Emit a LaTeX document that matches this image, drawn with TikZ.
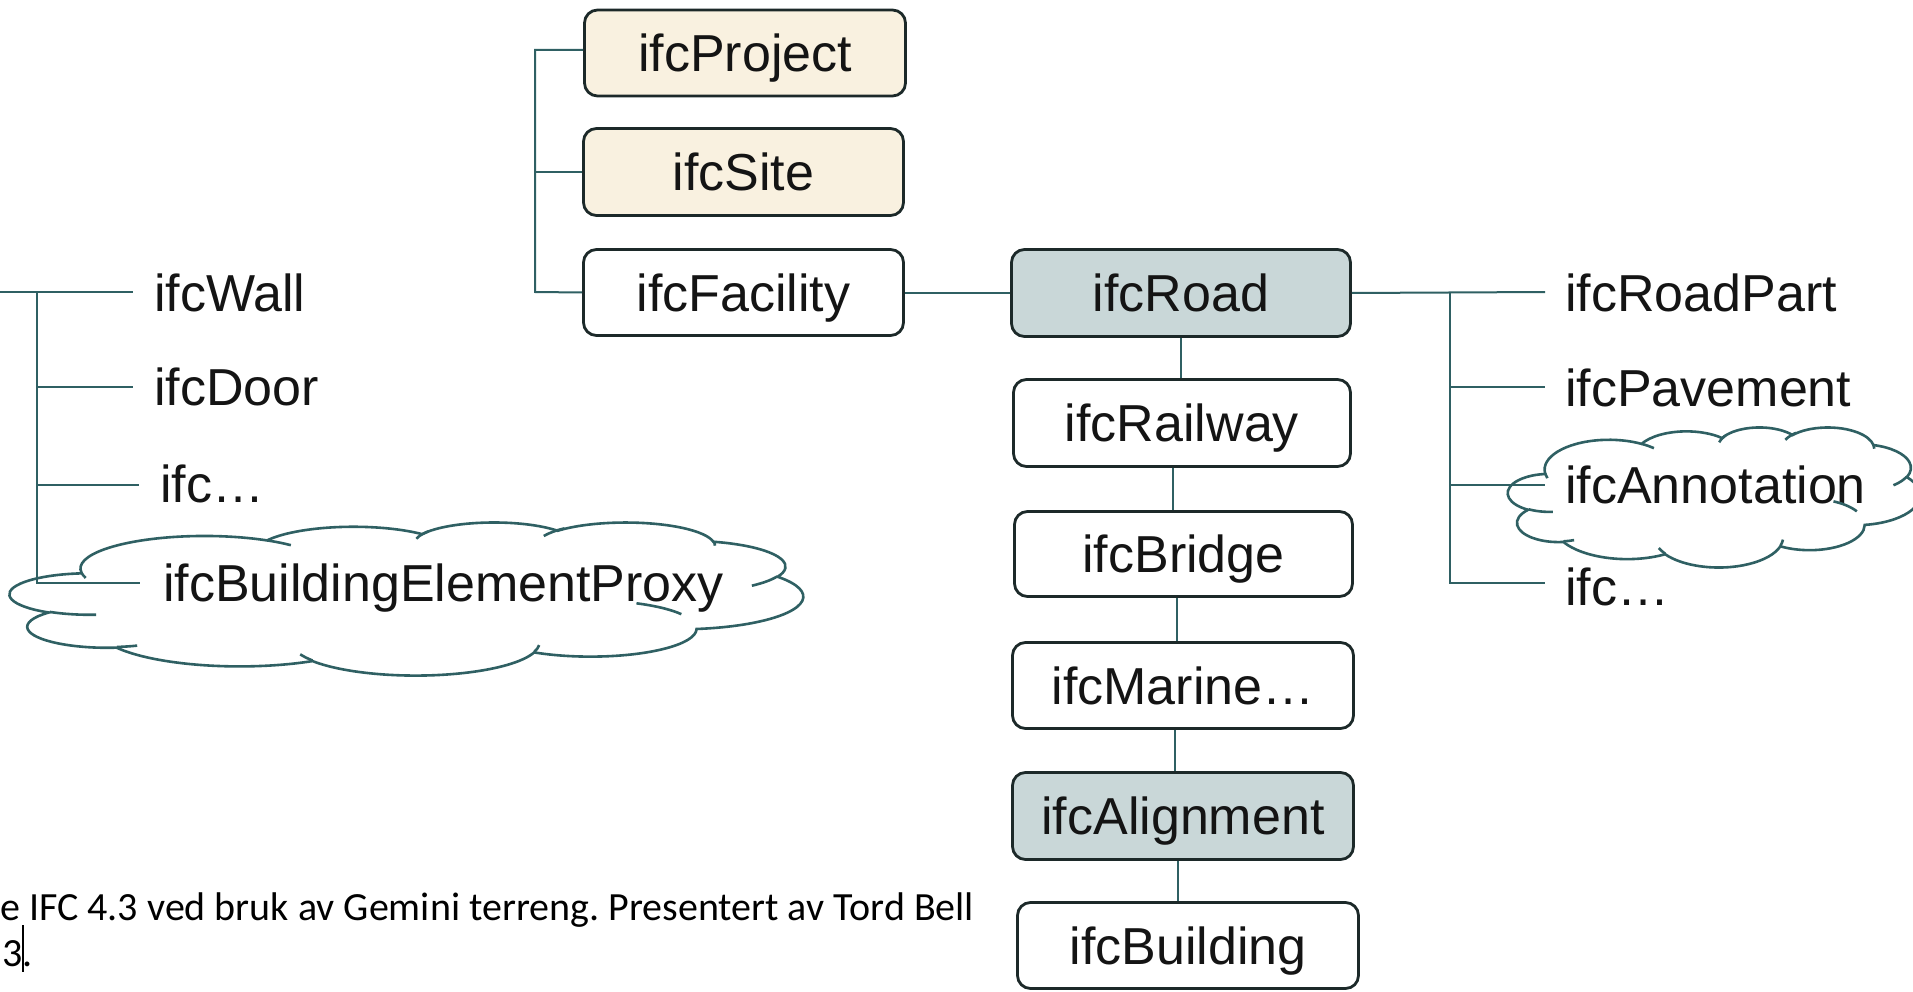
\documentclass[tikz,border=0pt]{standalone}
\usepackage{fontspec}
\setmainfont{Liberation Sans}
\newfontfamily\capfont{Carlito}
\usetikzlibrary{calc}
\frenchspacing

% Helpers for an elliptic-arc cloud outline: the arc angles are "visual"
% angles, converted here to the parametric angles TikZ expects.
\makeatletter
\pgfmathdeclarefunction{clstart}{3}{%
  \begingroup
  \pgfmathparse{atan2(#1*sin(#3),#2*cos(#3))}%
  \pgfmath@smuggleone\pgfmathresult
  \endgroup}
\pgfmathdeclarefunction{cldelta}{4}{%
  \begingroup
  \pgfmathparse{atan2(#1*sin(#3),#2*cos(#3))}\let\cl@ts\pgfmathresult
  \pgfmathparse{atan2(#1*sin(#3+#4),#2*cos(#3+#4))}\let\cl@te\pgfmathresult
  \pgfmathparse{\cl@te-\cl@ts}\let\cl@dd\pgfmathresult
  \pgfmathparse{\cl@dd+360*and(#4>0,\cl@dd<0)-360*and(#4<0,\cl@dd>0)}%
  \pgfmath@smuggleone\pgfmathresult
  \endgroup}
\makeatother
\newcommand\carc[4]{arc[x radius=#1, y radius=#2, start angle={clstart(#1,#2,#3)}, delta angle={cldelta(#1,#2,#3,#4)}]}

% Cloud outline in a 432 x 432 frame (y pointing down)
\newcommand\cloudoutline{%
  (39.00,143.70)
  \carc{67.53}{91.90}{-190.4875}{123.7805}
  \carc{53.33}{72.67}{-144.1024}{89.9452}
  \carc{43.65}{59.45}{-145.8079}{99.7230}
  \carc{48.57}{65.95}{-130.9861}{117.2417}
  \carc{53.33}{72.73}{-78.7089}{109.0269}
  \carc{67.75}{92.20}{-46.2673}{130.2690}
  \carc{57.85}{78.67}{0.6250}{114.0333}
  \carc{67.52}{92.15}{22.4516}{115.1726}
  \carc{77.20}{105.43}{66.2426}{75.7110}
  \carc{43.60}{59.18}{-274.9421}{146.7356}
  \carc{43.45}{59.45}{-246.8285}{152.5189}
  -- cycle}
\newcommand\cloudcreases{%
  (46.93,261.77) \carc{43.45}{59.45}{86.7420}{26.4295}
  (69.28,348.99) \carc{43.60}{59.18}{73.6105}{11.4475}
  (164.78,390.90) \carc{67.52}{92.15}{137.6242}{14.0811}
  (288.27,347.51) \carc{67.52}{92.15}{6.4533}{15.9984}
  (341.29,229.54) \carc{57.85}{78.67}{-70.2924}{31.4652}
  (417.98,153.54) \carc{53.33}{72.73}{29.8607}{27.1899}
  (383.24,54.26) \carc{48.57}{65.95}{-13.7368}{14.8547}
  (290.78,39.52) \carc{48.57}{65.95}{-149.1764}{24.6038}
  (221.41,47.20) \carc{43.65}{59.45}{-163.4943}{26.0018}
  (140.00,51.92) \carc{67.53}{91.90}{-66.7070}{12.3194}
  (41.27,157.89) \carc{67.53}{91.90}{157.6544}{11.8582}}

\definecolor{linkteal}{HTML}{2F6063}
\definecolor{edgeink}{HTML}{1C2929}
\definecolor{creamfill}{HTML}{F9F1E0}
\definecolor{slatefill}{HTML}{C9D7D8}
\definecolor{inkblack}{HTML}{141414}

\tikzset{
  ifcbox/.style={draw=edgeink, fill=white, line width=2.8pt, rounded corners=13pt,
    inner sep=0pt, text height=37pt, text depth=0pt,
    font=\fontsize{52}{60}\selectfont, text=inkblack},
  keybox/.style={ifcbox, fill=creamfill},
  spinebox/.style={ifcbox, fill=slatefill},
  plainlabel/.style={anchor=base west, inner sep=0pt,
    font=\fontsize{52}{60}\selectfont, text=inkblack},
  link/.style={draw=linkteal, line width=2pt},
  cloudline/.style={draw=linkteal, line width=2.6pt},
  caption/.style={inner sep=0pt, font=\capfont\fontsize{40}{46}\selectfont, text=black},
}

\begin{document}
\begin{tikzpicture}[x=1pt, y={(0pt,-1pt)}]
\useasboundingbox[fill=white] (0,0) rectangle (1913,992);

% --- spatial hierarchy boxes ---
\node[keybox, minimum width=321pt, minimum height=86pt] (project) at (745,53) {ifcProject};
\node[keybox, minimum width=320pt, minimum height=87pt] (site) at (743.5,172) {ifcSite};
\node[ifcbox, minimum width=320pt, minimum height=86pt] (facility) at (743.5,292.5) {ifcFacility};

% --- facility column ---
\node[spinebox, minimum width=339pt, minimum height=87pt] (road) at (1181,293) {ifcRoad};
\node[ifcbox, minimum width=337pt, minimum height=87pt] (railway) at (1182,423) {ifcRailway};
\node[ifcbox, minimum width=338pt, minimum height=85pt] (bridge) at (1183.5,554) {ifcBridge};
\node[ifcbox, minimum width=341pt, minimum height=86pt] (marine) at (1183,685.5) {ifcMarine…};
\node[spinebox, minimum width=341pt, minimum height=87pt] (alignment) at (1183,816) {ifcAlignment};
\node[ifcbox, minimum width=341pt, minimum height=86pt] (building) at (1188,945.5) {ifcBuilding};

% --- element labels (left) ---
\node[plainlabel] (wall) at (154,311) {ifcWall};
\node[plainlabel] (door) at (154,405) {ifcDoor};
\node[plainlabel] (etcleft) at (160,502) {ifc…};
\node[plainlabel] (proxy) at (163,601) {ifcBuildingElementProxy};

% --- road part labels (right) ---
\node[plainlabel] (roadpart) at (1565,311) {ifcRoadPart};
\node[plainlabel] (pavement) at (1565,406) {ifcPavement};
\node[plainlabel] (annotation) at (1565,503) {ifcAnnotation};
\node[plainlabel] (etcright) at (1565,605) {ifc…};

% --- connector end points ---
\coordinate (pspine) at (535,292);
\coordinate (lin) at (0,292);
\coordinate (lspine) at (37,292);
\coordinate (wallend) at (133,292);
\coordinate (doorend) at (133,387);
\coordinate (etcleftend) at (139,485);
\coordinate (proxyend) at (140,583);
\coordinate (rspine) at (1450,292);
\coordinate (roadpartend) at (1545,292);
\coordinate (pavementend) at (1545,387);
\coordinate (annotationend) at (1545,485);
\coordinate (etcrightend) at (1545,583);

% project / site / facility
\draw[link] (project.west |- 0,50) -| (pspine) -- (facility.west);
\draw[link] (site.west) -- (site.west -| pspine);
\draw[link] (facility.east) -- (facility.east -| road.west);

% facility column
\draw[link] (road.south) -- (road.south |- railway.north);
\draw[link] ([xshift=-9pt]railway.south) -- ([xshift=-9pt]railway.south |- bridge.north);
\draw[link] ([xshift=-6.5pt]bridge.south) -- ([xshift=-6.5pt]bridge.south |- marine.north);
\draw[link] ([xshift=-8pt]marine.south) -- ([xshift=-8pt]marine.south |- alignment.north);
\draw[link] ([xshift=-5pt]alignment.south) -- ([xshift=-5pt]alignment.south |- building.north);

% road parts
\draw[link] (road.east) -- (roadpartend);
\draw[link] (rspine) -- (rspine |- etcrightend) -- (etcrightend);
\draw[link] (rspine |- pavementend) -- (pavementend);
\draw[link] (rspine |- annotationend) -- (annotationend);

% building elements
\draw[link] (lin) -- (wallend);
\draw[link] (lspine) -- (lspine |- proxyend) -- (proxyend);
\draw[link] (lspine |- doorend) -- (doorend);
\draw[link] (lspine |- etcleftend) -- (etcleftend);

% --- clouds ---
\begin{scope}[shift={(10,522)}, x=1pt, y=1pt, xscale=1.8356, yscale=-0.3542]
  \draw[cloudline] \cloudoutline;
  \draw[cloudline] \cloudcreases;
\end{scope}
\begin{scope}[shift={(1508,427)}, x=1pt, y=1pt, xscale=0.9537, yscale=-0.3241]
  \draw[cloudline] \cloudoutline;
  \draw[cloudline] \cloudcreases;
\end{scope}

% --- caption fragment ---
\node[caption, anchor=base west] (cap1) at (0,920) {e IFC 4.3 ved bruk av Gemini terreng. Presentert av Tord Bell};
\node[caption, anchor=base west] (cap2) at (2,966) {3.};
\draw[black, line width=1.2pt] (23,925) -- (23,972);
\end{tikzpicture}
\end{document}
